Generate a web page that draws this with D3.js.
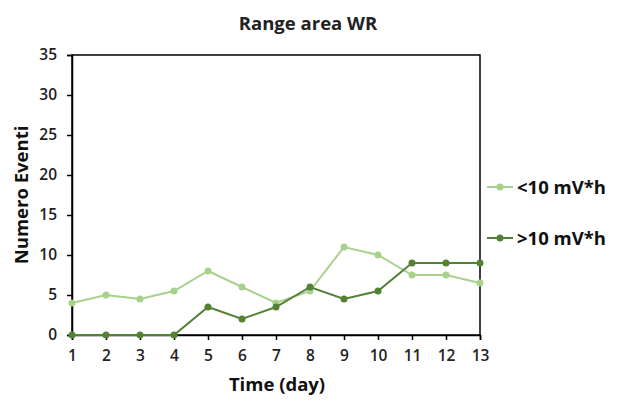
<!DOCTYPE html>
<html>
<head>
<meta charset="utf-8">
<script src="https://cdn.jsdelivr.net/npm/d3@7"></script>
<style>
  html, body { margin: 0; padding: 0; background: #fff; }
  svg { display: block; font-family: "Open Sans", Lato, sans-serif; }
</style>
</head>
<body>
<svg id="chart" width="628" height="404"></svg>
<script>
// Data
const days = [1, 2, 3, 4, 5, 6, 7, 8, 9, 10, 11, 12, 13];
const lowSeries = [4, 5, 4.5, 5.5, 8, 6, 4, 5.5, 11, 10, 7.5, 7.5, 6.5];
const highSeries = [0, 0, 0, 0, 3.5, 2, 3.5, 6, 4.5, 5.5, 9, 9, 9];
const seriesNames = ["<10 mV*h", ">10 mV*h"];
const seriesColors = ["#a9d18e", "#548235"];
const yTicks = [0, 5, 10, 15, 20, 25, 30, 35];

const svg = d3.select("#chart");
const margin = { left: 72, right: 148, top: 55, bottom: 69 };
const W = 628, H = 404;
const font = "'Open Sans', Lato, sans-serif";

const x = d3.scaleLinear().domain([1, 13]).range([margin.left, W - margin.right]);
const y = d3.scaleLinear().domain([0, 35]).range([H - margin.bottom, margin.top]);

// Title
svg.append("text")
  .attr("x", 308).attr("y", 30)
  .attr("text-anchor", "middle")
  .attr("font-size", 18.5).attr("font-weight", "bold")
  .attr("fill", "#222")
  .text("Range area WR");

// Plot frame
svg.append("rect")
  .attr("x", x(1)).attr("y", y(35))
  .attr("width", x(13) - x(1)).attr("height", y(0) - y(35))
  .attr("fill", "none").attr("stroke", "#000").attr("stroke-width", 1.5);

// Y axis
const yAxis = svg.append("g")
  .attr("transform", `translate(${x(1)},0)`)
  .call(d3.axisLeft(y).tickValues(yTicks).tickSize(5).tickPadding(10));
// X axis
const xAxis = svg.append("g")
  .attr("transform", `translate(0,${y(0)})`)
  .call(d3.axisBottom(x).tickValues(days).tickSize(5).tickPadding(10));

[yAxis, xAxis].forEach(g => {
  g.select(".domain").attr("stroke", "#000").attr("stroke-width", 1.5);
  g.selectAll(".tick line").attr("stroke", "#000").attr("stroke-width", 1.5);
  g.selectAll(".tick text")
    .attr("font-size", 15.5).attr("font-weight", 600)
    .attr("fill", "#222")
    .style("font-family", font);
});

// Axis titles
svg.append("text")
  .attr("transform", `translate(28,${(y(0) + y(35)) / 2}) rotate(-90)`)
  .attr("text-anchor", "middle")
  .attr("font-size", 18.5).attr("font-weight", "bold")
  .attr("fill", "#111")
  .text("Numero Eventi");

svg.append("text")
  .attr("x", 277).attr("y", 391)
  .attr("text-anchor", "middle")
  .attr("font-size", 18.5).attr("font-weight", "bold")
  .attr("fill", "#111")
  .text("Time (day)");

// Series lines and markers
const line = d3.line().x((d, i) => x(days[i])).y(d => y(d));
[lowSeries, highSeries].forEach((vals, k) => {
  svg.append("path")
    .datum(vals)
    .attr("d", line)
    .attr("fill", "none")
    .attr("stroke", seriesColors[k])
    .attr("stroke-width", 2);
  svg.selectAll(null)
    .data(vals)
    .enter().append("circle")
    .attr("cx", (d, i) => x(days[i]))
    .attr("cy", d => y(d))
    .attr("r", 3.5)
    .attr("fill", seriesColors[k]);
});

// Legend
const legend = svg.append("g");
seriesNames.forEach((name, k) => {
  const ly = 187 + k * 51;
  legend.append("line")
    .attr("x1", 487).attr("x2", 513).attr("y1", ly).attr("y2", ly)
    .attr("stroke", seriesColors[k]).attr("stroke-width", 2);
  legend.append("circle")
    .attr("cx", 500).attr("cy", ly).attr("r", 3.5)
    .attr("fill", seriesColors[k]);
  legend.append("text")
    .attr("x", 517).attr("y", ly + 6.5)
    .attr("font-size", 18.5).attr("font-weight", "bold")
    .attr("fill", "#111")
    .text(name);
});
</script>
</body>
</html>
